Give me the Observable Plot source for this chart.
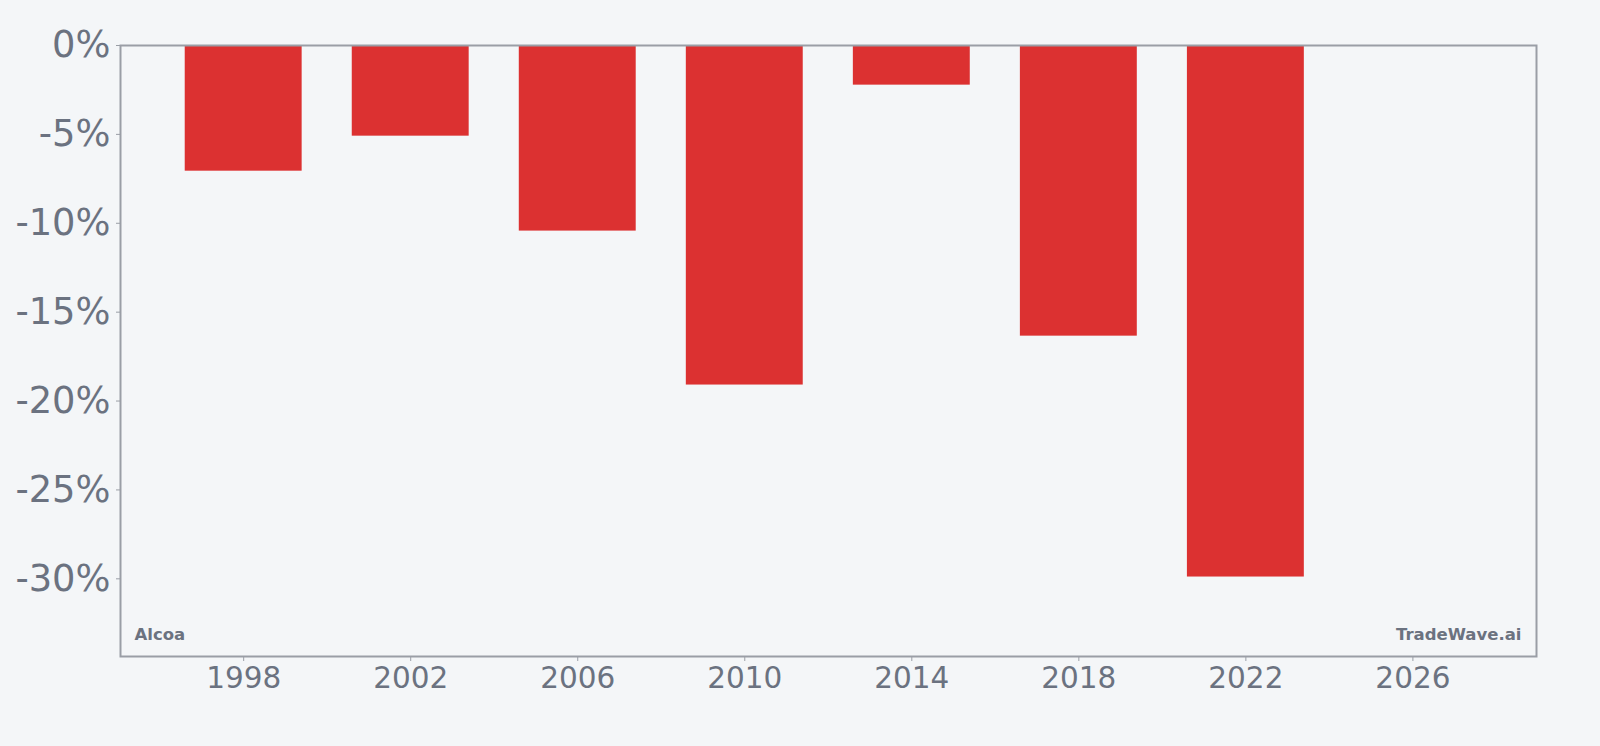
<!DOCTYPE html>
<html>
<head>
<meta charset="utf-8">
<script src="https://cdn.jsdelivr.net/npm/d3@7"></script>
<script src="https://cdn.jsdelivr.net/npm/@observablehq/plot@0.6"></script>
<style>
  html, body { margin: 0; padding: 0; background: #f4f6f8; }
  #chart { width: 1600px; height: 746px; }
</style>
</head>
<body>
<div id="chart"></div>
<script>
const years = [1998, 2002, 2006, 2010, 2014, 2018, 2022];
const values = [-7.07, -5.10, -10.44, -19.1, -2.23, -16.35, -29.9];
const xTicks = [1998, 2002, 2006, 2010, 2014, 2018, 2022, 2026];
const yTicks = [0, -5, -10, -15, -20, -25, -30];
const company = "Alcoa";
const brand = "TradeWave.ai";

const data = years.map((y, i) => ({year: y, value: values[i]}));
const halfWidth = 1.4;

const textColor = "#6b7280";
const frameColor = "#9a9ea6";

const chart = Plot.plot({
  width: 1600,
  height: 746,
  marginLeft: 120,
  marginTop: 45,
  marginRight: 64,
  marginBottom: 90,
  style: {background: "#f4f6f8", fontFamily: "DejaVu Sans", color: textColor},
  x: {domain: [1995.05, 2028.96]},
  y: {domain: [-34.37, 0]},
  marks: [
    Plot.rect(data, {
      x1: d => d.year - halfWidth,
      x2: d => d.year + halfWidth,
      y1: 0,
      y2: "value",
      fill: "#dc3131"
    }),
    Plot.axisX({ticks: xTicks, tickFormat: d => String(d), fontSize: 29.5, tickSize: 5, tickPadding: 6, stroke: frameColor, color: textColor, label: null}),
    Plot.axisY({ticks: yTicks, tickFormat: d => `${d}%`, fontSize: 36.8, tickSize: 4, tickPadding: 6, stroke: frameColor, color: textColor, label: null}),
    Plot.frame({stroke: frameColor, strokeWidth: 2}),
    Plot.text([company], {frameAnchor: "bottom-left", dx: 14, dy: -17, text: d => d, fontSize: 16.5, fontWeight: "bold", fill: textColor, textAnchor: "start", lineAnchor: "bottom"}),
    Plot.text([brand], {frameAnchor: "bottom-right", dx: -15, dy: -17, text: d => d, fontSize: 16.5, fontWeight: "bold", fill: textColor, textAnchor: "end", lineAnchor: "bottom"})
  ]
});
document.getElementById("chart").appendChild(chart);
</script>
</body>
</html>
